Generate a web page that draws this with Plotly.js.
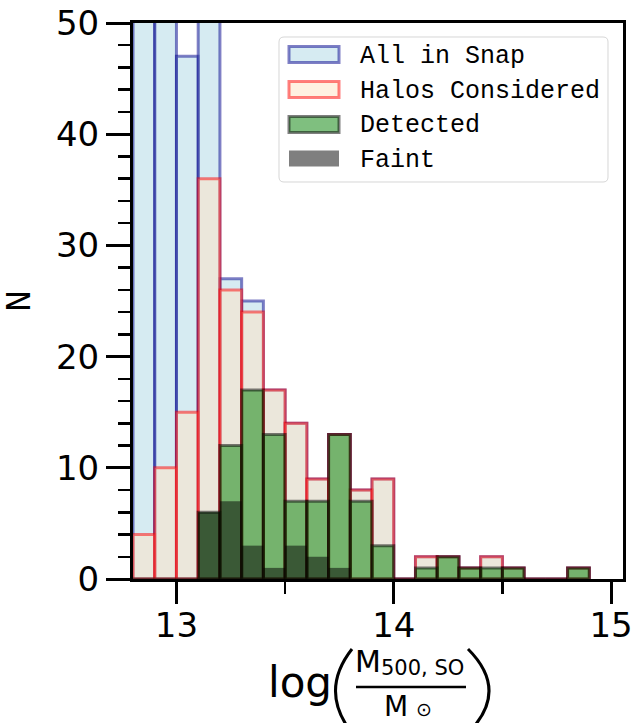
<!DOCTYPE html>
<html>
<head>
<meta charset="utf-8">
<script src="https://cdn.plot.ly/plotly-3.0.1.min.js"></script>
<style>
  html, body { margin: 0; padding: 0; background: #ffffff; }
  #chart { width: 637px; height: 723px; }
</style>
</head>
<body>
<div id="chart"></div>
<script>
// Histogram of halo mass, bins of 0.1 dex starting at log M = 12.8
const binLow = [12.8, 12.9, 13.0, 13.1, 13.2, 13.3, 13.4, 13.5, 13.6, 13.7,
                13.8, 13.9, 14.0, 14.1, 14.2, 14.3, 14.4, 14.5, 14.6, 14.7, 14.8];
const binWidth = 0.1;

// Counts per bin
const allInSnap       = [61, 55, 47, 52, 27, 25, 17, 14, 9, 13, 8, 9, 0, 2, 2, 1, 2, 1, 0, 0, 1];
const halosConsidered = [4, 10, 15, 36, 26, 24, 17, 14, 9, 13, 8, 9, 0, 2, 2, 1, 2, 1, 0, 0, 1];
const detected        = [0, 0, 0, 6, 12, 17, 13, 7, 7, 13, 7, 3, 0, 1, 2, 1, 1, 1, 0, 0, 1];
const faint           = [0, 0, 0, 6, 7, 3, 1, 3, 2, 1, 0, 0, 0, 0, 0, 0, 0, 0, 0, 0, 0];

const seriesNames = ['All in Snap', 'Halos Considered', 'Detected', 'Faint'];
const yTicks = [0, 10, 20, 30, 40, 50];
const xTicks = [13, 14, 15];

const centers = binLow.map(b => +(b + binWidth / 2).toFixed(3));

// Plot-area geometry in pixels (used to place the hand-drawn legend and x label)
const L = 133, R = 623, T = 23, B = 579;
const W = R - L, H = B - T;
const px = x => (x - L) / W;
const py = y => (B - y) / H;

const styles = [
  { fill: 'rgba(173,216,230,0.5)', edge: 'rgba(0,0,139,0.5)', lw: 3 },
  { fill: 'rgba(255,228,196,0.5)', edge: 'rgba(255,0,0,0.5)', lw: 3 },
  { fill: 'rgba(0,128,0,0.5)',     edge: 'rgba(0,0,0,0.5)',   lw: 3 },
  { fill: 'rgba(0,0,0,0.5)',       edge: 'rgba(0,0,0,0)',     lw: 0 }
];
const seriesValues = [allInSnap, halosConsidered, detected, faint];

const traces = seriesValues.map((vals, i) => ({
  type: 'bar',
  name: seriesNames[i],
  x: centers,
  y: vals,
  width: binWidth,
  marker: { color: styles[i].fill, line: { color: styles[i].edge, width: styles[i].lw } },
  hoverinfo: 'x+y+name'
}));

const monoFont = 'Courier New, Courier, Liberation Mono, monospace';

// Legend frame, patches and labels
const shapes = [];
const annotations = [];
const r = 5, bx0 = 279, bx1 = 608, by0 = 37, by1 = 182;
const rx = r / W, ry = r / H;
const X0 = px(bx0), X1 = px(bx1), Y0 = py(by0), Y1 = py(by1);
shapes.push({
  type: 'path', xref: 'paper', yref: 'paper',
  path: `M ${X0 + rx},${Y0} L ${X1 - rx},${Y0} Q ${X1},${Y0} ${X1},${Y0 - ry} ` +
        `L ${X1},${Y1 + ry} Q ${X1},${Y1} ${X1 - rx},${Y1} L ${X0 + rx},${Y1} ` +
        `Q ${X0},${Y1} ${X0},${Y1 + ry} L ${X0},${Y0 - ry} Q ${X0},${Y0} ${X0 + rx},${Y0} Z`,
  fillcolor: 'rgba(255,255,255,0.8)',
  line: { color: 'rgba(204,204,204,0.8)', width: 1 },
  layer: 'above'
});
const rowCenters = [54.5, 89.5, 124.5, 158.5];
const textBaselines = [63.3, 98.3, 132.3, 166.7];
rowCenters.forEach((c, i) => {
  shapes.push({
    type: 'rect', xref: 'paper', yref: 'paper',
    x0: px(289), x1: px(339), y0: py(c - 8), y1: py(c + 8),
    fillcolor: styles[i].fill,
    line: { color: styles[i].edge, width: styles[i].lw },
    layer: 'above'
  });
  annotations.push({
    xref: 'paper', yref: 'paper', x: px(358), y: py(textBaselines[i] - 6.7),
    xanchor: 'left', yanchor: 'middle', showarrow: false,
    text: seriesNames[i],
    font: { family: monoFont, size: 25, color: '#000' }
  });
});

// x-axis label: log( M_500,SO / M_sun ), built from pieces around a fraction bar
const dy = -6;
const mathFont = { family: 'DejaVu Sans', color: '#000' };
const piece = (x, baseline, size, text) => ({
  xref: 'paper', yref: 'paper', x: px(x), y: py(baseline + dy - 0.346 * size),
  xanchor: 'left', yanchor: 'middle', showarrow: false, text: text,
  font: Object.assign({ size: size }, mathFont)
});
annotations.push(
  piece(266, 703, 42, 'log'),
  piece(353, 678, 30, 'M'),
  piece(379, 681, 21, '500, SO'),
  piece(382, 722, 28, 'M'),
  piece(414, 722, 19, '\u2299')
);
shapes.push(
  { type: 'line', xref: 'paper', yref: 'paper', x0: px(356), x1: px(466), y0: py(693 + dy), y1: py(693 + dy),
    line: { color: '#000', width: 2.5 } },
  { type: 'path', xref: 'paper', yref: 'paper',
    path: `M ${px(352)},${py(655 + dy)} Q ${px(319)},${py(697 + dy)} ${px(352)},${py(739 + dy)}`,
    line: { color: '#000', width: 3 } },
  { type: 'path', xref: 'paper', yref: 'paper',
    path: `M ${px(468)},${py(655 + dy)} Q ${px(510)},${py(697 + dy)} ${px(468)},${py(739 + dy)}`,
    line: { color: '#000', width: 3 } }
);

const layout = {
  width: 637, height: 723,
  margin: { l: L, r: 637 - R, t: T, b: 723 - B },
  paper_bgcolor: '#ffffff', plot_bgcolor: '#ffffff',
  barmode: 'overlay',
  showlegend: false,
  font: { family: 'DejaVu Sans', color: '#000' },
  xaxis: {
    range: [12.8, 15.055],
    tickvals: xTicks, ticktext: xTicks.map(String),
    ticks: 'outside', ticklen: 22, tickwidth: 3, tickcolor: '#000',
    ticklabelstandoff: -8,
    minor: { dtick: 0.5, tick0: 13, ticks: 'outside', ticklen: 12, tickwidth: 2.5, tickcolor: '#000' },
    tickfont: { family: 'DejaVu Sans', size: 34, color: '#000' },
    showline: true, linewidth: 3, linecolor: '#000', mirror: true,
    showgrid: false, zeroline: false
  },
  yaxis: {
    range: [0, 50],
    tickvals: yTicks, ticktext: yTicks.map(String),
    ticks: 'outside', ticklen: 24, tickwidth: 3, tickcolor: '#000',
    minor: { dtick: 2, tick0: 0, ticks: 'outside', ticklen: 12, tickwidth: 2.5, tickcolor: '#000' },
    tickfont: { family: 'DejaVu Sans', size: 34, color: '#000' },
    showline: true, linewidth: 3, linecolor: '#000', mirror: true,
    showgrid: false, zeroline: false,
    title: { text: 'N', standoff: 17, font: { family: monoFont, size: 36, color: '#000' } }
  },
  shapes: shapes,
  annotations: annotations
};

Plotly.newPlot('chart', traces, layout, { displayModeBar: false, staticPlot: true });
</script>
</body>
</html>
